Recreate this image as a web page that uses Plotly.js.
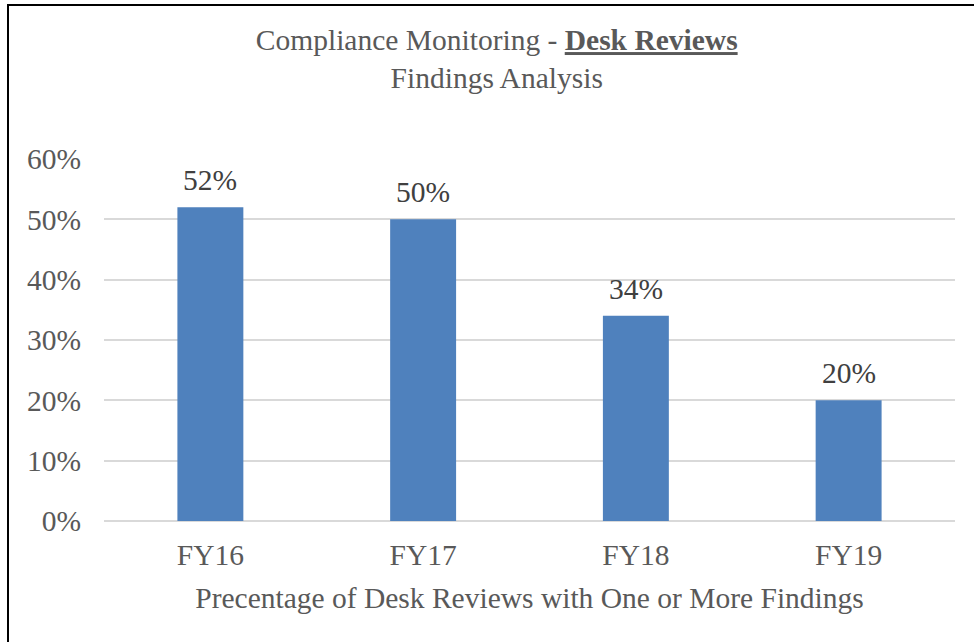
<!DOCTYPE html>
<html>
<head>
<meta charset="utf-8">
<script src="https://cdn.plot.ly/plotly-3.0.1.min.js"></script>
<style>
html,body{margin:0;padding:0;background:#fff;}
#wrap{position:relative;width:974px;height:642px;overflow:hidden;}
#chart{position:absolute;left:0;top:0;width:974px;height:642px;}
#bl{position:absolute;left:7px;top:4px;width:2px;height:638px;background:#000;}
#bt{position:absolute;left:7px;top:4px;width:967px;height:2px;background:#000;}
</style>
</head>
<body>
<div id="wrap"><div id="chart"></div><div id="bl"></div><div id="bt"></div></div>
<script>
const categories = ["FY16", "FY17", "FY18", "FY19"];
const values = [52, 50, 34, 20];
const yTicks = [0, 10, 20, 30, 40, 50, 60];

const font = "'Liberation Serif', 'Times New Roman', serif";
const FS = 29.5;
const trace = {
  type: 'bar',
  x: categories,
  y: values,
  marker: {color: '#4F81BD'},
  hoverinfo: 'none'
};
const annotations = categories.map((c, i) => ({
  x: c, y: values[i], xref: 'x', yref: 'y',
  text: values[i] + '%', showarrow: false,
  xanchor: 'center', yanchor: 'bottom', yshift: 9,
  font: {family: font, size: FS, color: '#404040'}
}));
const layout = {
  width: 974, height: 642,
  margin: {l: 104, r: 19, t: 159, b: 121},
  paper_bgcolor: '#fff', plot_bgcolor: '#fff',
  showlegend: false,
  bargap: 0.69,
  font: {family: font, color: '#595959', size: FS},
  annotations: annotations,
  title: {
    text: "Compliance Monitoring - <b><u>Desk Reviews</u></b><br>Findings Analysis",
    font: {family: font, size: FS, color: '#595959'},
    x: 0.510, xref: 'container', xanchor: 'center',
    y: 0.922, yref: 'container', yanchor: 'top'
  },
  xaxis: {
    type: 'category',
    showgrid: false, zeroline: false, showline: false,
    ticks: '', ticklabelstandoff: 13,
    tickfont: {family: font, size: FS, color: '#595959'},
    title: {text: 'Precentage of Desk Reviews with One or More Findings', standoff: 17,
            font: {family: font, size: FS, color: '#595959'}}
  },
  yaxis: {
    range: [0, 60],
    tickvals: yTicks,
    ticktext: yTicks.map(v => v + '%'),
    showgrid: true, gridcolor: '#d9d9d9', gridwidth: 2,
    zeroline: true, zerolinecolor: '#d9d9d9', zerolinewidth: 2,
    showline: false, ticks: '', ticklabelstandoff: 22,
    tickfont: {family: font, size: FS, color: '#595959'}
  }
};
Plotly.newPlot('chart', [trace], layout, {staticPlot: true, displayModeBar: false});
</script>
</body>
</html>
